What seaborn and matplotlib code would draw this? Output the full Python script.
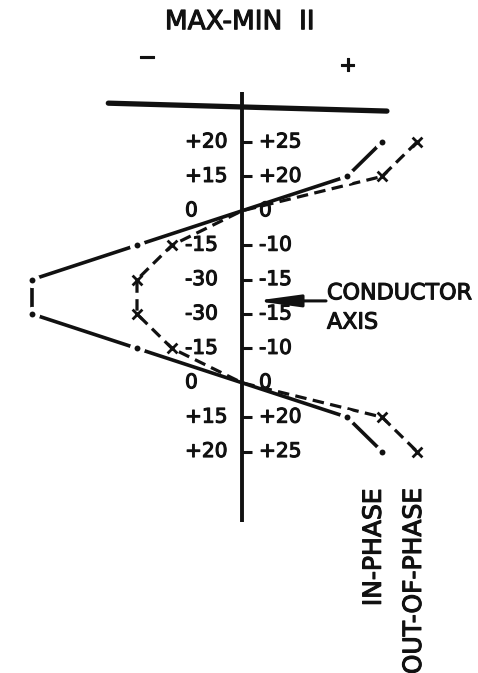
import matplotlib
matplotlib.use("Agg")
import matplotlib.patheffects as pe
import matplotlib.pyplot as plt
import pandas as pd
import seaborn as sns

# readings at each station along the traverse (top to bottom)
stations = [0, 1, 2, 3, 4, 5, 6, 7, 8, 9]
in_phase = [20, 15, 0, -15, -30, -30, -15, 0, 15, 20]
out_of_phase = [25, 20, 0, -10, -15, -15, -10, 0, 20, 25]

in_phase_labels = ["+20", "+15", "0", "-15", "-30", "-30", "-15", "0", "+15", "+20"]
out_phase_labels = ["+25", "+20", "0", "-10", "-15", "-15", "-10", "0", "+20", "+25"]

INK = "#111111"
# scanned lettering is heavier than plain DejaVu, so thicken the glyphs a bit
HEAVY = [pe.withStroke(linewidth=0.8, foreground=INK)]


def main() -> None:
    sns.set_theme(style="white")
    plt.rcParams["font.family"] = ["DejaVu Sans"]

    df = pd.DataFrame(
        {"station": stations, "in_phase": in_phase, "out_of_phase": out_of_phase}
    )
    marked = df[df["in_phase"] != 0]

    fig = plt.figure(figsize=(4.78, 6.73), dpi=100)
    ax = fig.add_axes([0, 0, 1, 1])
    ax.set_xlim(-34.57, 33.71)
    ax.set_ylim(15.44, -4.13)
    ax.axis("off")

    # in-phase: solid line broken around a dot at each station
    sns.lineplot(
        data=df, x="in_phase", y="station", orient="y", sort=False,
        estimator=None, color=INK, linewidth=2.6, ax=ax, zorder=2,
    )
    sns.scatterplot(
        data=marked, x="in_phase", y="station", s=120, color="white",
        linewidth=0, ax=ax, zorder=3,
    )
    sns.scatterplot(
        data=marked, x="in_phase", y="station", s=18, color=INK,
        linewidth=0, ax=ax, zorder=4,
    )

    # out-of-phase: dashed with small crosses
    sns.lineplot(
        data=df, x="out_of_phase", y="station", orient="y", sort=False,
        estimator=None, color=INK, linewidth=2.3, linestyle=(0, (3.6, 2.0)),
        ax=ax, zorder=2,
    )
    sns.scatterplot(
        data=df[df["out_of_phase"] != 0], x="out_of_phase", y="station",
        marker="x", s=50, color=INK, linewidth=2.0, ax=ax, zorder=4,
    )

    # profile axis, ticks and the top base line
    ax.vlines(0, -1.45, 11.05, color=INK, linewidth=2.8, zorder=5)
    tick_rows = [s for s, v in zip(stations, in_phase) if v != 0]
    ax.hlines(tick_rows, 0, 1.4, color=INK, linewidth=2.2, zorder=5)
    ax.plot([-19.1, 20.7], [-1.13, -0.90], color=INK, linewidth=3.8,
            solid_capstyle="round", zorder=5)

    for s, lab in zip(stations, in_phase_labels):
        ax.text(-8.14, s, lab, ha="left", va="center", fontsize=14.5,
                color=INK, path_effects=HEAVY)
    for s, lab in zip(stations, out_phase_labels):
        ax.text(2.43, s, lab, ha="left", va="center", fontsize=14.5,
                color=INK, path_effects=HEAVY)

    # conductor axis call-out
    ax.annotate(
        "", xy=(1.86, 4.62), xytext=(12.0, 4.62),
        arrowprops=dict(arrowstyle="-|>,head_length=2.2,head_width=0.3",
                        lw=2.2, color=INK, shrinkA=0, shrinkB=0),
        zorder=6,
    )
    ax.text(12.14, 4.4, "CONDUCTOR", ha="left", va="center", fontsize=16,
            color=INK, path_effects=HEAVY)
    ax.text(12.14, 5.25, "AXIS", ha="left", va="center", fontsize=16,
            color=INK, path_effects=HEAVY)

    fig.text(0.502, 0.967, "MAX-MIN  II", ha="center", va="center", fontsize=19,
             color=INK, path_effects=HEAVY)
    fig.text(0.308, 0.914, "\u2212", ha="center", va="center", fontsize=16,
             color=INK, path_effects=HEAVY)
    fig.text(0.728, 0.903, "+", ha="center", va="center", fontsize=15,
             color=INK, path_effects=HEAVY)

    fig.text(0.782, 0.275, "IN-PHASE", rotation=90, ha="center", va="top",
             fontsize=18, color=INK, path_effects=HEAVY)
    fig.text(0.866, 0.276, "OUT-OF-PHASE", rotation=90, ha="center", va="top",
             fontsize=18, color=INK, path_effects=HEAVY)

    fig.savefig("out.png", dpi=100, facecolor="white")
    plt.close(fig)


if __name__ == "__main__":
    main()
